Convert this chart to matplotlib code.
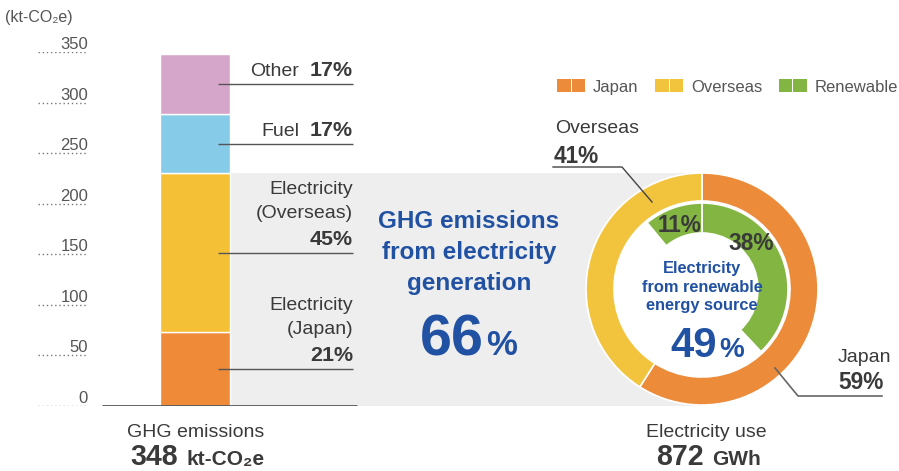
import matplotlib.pyplot as plt
from matplotlib.font_manager import FontProperties
from matplotlib.patches import Patch, Circle
from matplotlib.legend_handler import HandlerTuple

# GHG emissions by source, kt-CO2e (bottom to top of the stacked bar)
ghg_names = [["Electricity", "(Japan)"], ["Electricity", "(Overseas)"], ["Fuel"], ["Other"]]
ghg_values = [73, 157, 59, 59]
ghg_pcts = ["21%", "45%", "17%", "17%"]
ghg_colors = ["#EE8A38", "#F4C136", "#86CBE7", "#D6A6CA"]
yticks = [0, 50, 100, 150, 200, 250, 300, 350]
ghg_total = "348"
elec_share = "66"

# electricity use shares (%), clockwise from the top
use_names = ["Japan", "Overseas"]
use_values = [59, 41]
use_colors = ["#EC8C3B", "#F2C43E"]
# inner ring: renewable in Japan, non-renewable, renewable overseas
renew_values = [38, 51, 11]
renew_share = "49"
use_total = "872"

REG = ["Liberation Sans", "DejaVu Sans"]
DARK = "#3A3A3A"
BLUE = "#2151A2"
GREEN = "#82B541"


def num_font(size):
    # bold numbers; the original face is condensed, so go a bit smaller
    return FontProperties(family=REG, weight="bold", size=size * 0.86)


fig = plt.figure(figsize=(8.99, 4.71), dpi=100)

# stacked bar; x axis in pixels, y in kt-CO2e
ax = fig.add_axes([0, 65 / 471, 1, 354 / 471], zorder=1)
ax.set_xlim(0, 899)
ax.set_ylim(0, 350)
ax.axis("off")

bar_x, bar_w = 195, 70
band_top = ghg_values[0] + ghg_values[1]
ax.fill_between([bar_x + bar_w / 2, 702], 0, band_top, color="#EEEEEE", lw=0, zorder=0)

bottom = 0
for names_, v, p, c in zip(ghg_names, ghg_values, ghg_pcts, ghg_colors):
    ax.bar(bar_x, v, bar_w, bottom=bottom, color=c, edgecolor="white", lw=1, zorder=2)
    mid = bottom + v / 2
    ax.hlines(mid, 218, 353, color="#555555", lw=1, zorder=3)
    ax.annotate(p, (353, mid), xytext=(0, 8), textcoords="offset pixels",
                ha="right", va="baseline", fontproperties=num_font(18), color=DARK)
    if len(names_) == 1:
        ax.annotate(names_[0], (299, mid), xytext=(0, 8), textcoords="offset pixels",
                    ha="right", va="baseline", fontsize=14, family=REG, color=DARK)
    else:
        ax.annotate(names_[1], (353, mid), xytext=(0, 35), textcoords="offset pixels",
                    ha="right", va="baseline", fontsize=14, family=REG, color=DARK)
        ax.annotate(names_[0], (353, mid), xytext=(0, 59), textcoords="offset pixels",
                    ha="right", va="baseline", fontsize=14, family=REG, color=DARK)
    bottom += v

ax.hlines(0, 102, 357, color="#555555", lw=2, zorder=3)
for t in yticks:
    ax.hlines(t, 38, 88, color="#777777", lw=1, linestyles=(0, (1, 2)), zorder=3)
    ax.annotate(str(t), (88, t), xytext=(0, 3), textcoords="offset pixels",
                ha="right", va="baseline", fontsize=12, family=REG, color="#555555")

# donut
ax2 = fig.add_axes([(702 - 116) / 899, 66 / 471, 232 / 899, 232 / 471], zorder=2)
ax2.add_patch(Circle((0, 0), 1, color="white", zorder=0))
ax2.pie(use_values, colors=use_colors, radius=1, startangle=90, counterclock=False,
        wedgeprops=dict(width=28 / 116, edgecolor="white", linewidth=1.2))
ax2.pie(renew_values, colors=[GREEN, "white", GREEN], radius=86 / 116, startangle=90,
        counterclock=False, wedgeprops=dict(width=30 / 116, edgecolor="white", linewidth=1.2))
ax2.set_xlim(-1, 1)
ax2.set_ylim(-1, 1)
ax2.axis("off")

# overlay for text, in pixels
ov = fig.add_axes([0, 0, 1, 1], zorder=5)
ov.set_xlim(0, 899)
ov.set_ylim(471, 0)
ov.axis("off")

ov.text(5, 22, "(kt-CO\u2082e)", fontsize=11.5, family=REG, color="#555555", va="baseline")

for s, y in zip(["GHG emissions", "from electricity", "generation"], [228, 259, 290]):
    ov.text(469, y, s, ha="center", va="baseline", fontsize=17.5, fontweight="bold",
            family=REG, color=BLUE)
ov.text(484, 355, elec_share, ha="right", va="baseline", fontproperties=num_font(48),
        color=BLUE)
ov.text(486, 355, "%", ha="left", va="baseline", fontsize=25, fontweight="bold",
        family=REG, color=BLUE)

for s, y in zip(["Electricity", "from renewable", "energy source"], [273, 292, 310]):
    ov.text(702, y, s, ha="center", va="baseline", fontsize=11.8, fontweight="bold",
            family=REG, color=BLUE)
ov.text(717, 357, renew_share, ha="right", va="baseline", fontproperties=num_font(35),
        color=BLUE)
ov.text(719, 357, "%", ha="left", va="baseline", fontsize=20, fontweight="bold",
        family=REG, color=BLUE)

ov.text(751, 250, f"{renew_values[0]}%", ha="center", va="baseline",
        fontproperties=num_font(19), color=DARK)
ov.text(680, 232, f"{renew_values[2]}%", ha="center", va="baseline",
        fontproperties=num_font(19), color=DARK)

ov.text(555, 133, use_names[1], ha="left", va="baseline", fontsize=14, family=REG, color=DARK)
ov.text(554, 163, f"{use_values[1]}%", ha="left", va="baseline",
        fontproperties=num_font(19), color=DARK)
ov.plot([553, 622, 652], [167, 167, 202], color="#444444", lw=1)

ov.text(838, 362, use_names[0], ha="left", va="baseline", fontsize=14, family=REG, color=DARK)
ov.text(838, 389, f"{use_values[0]}%", ha="left", va="baseline",
        fontproperties=num_font(19), color=DARK)
ov.plot([775, 798, 882], [368, 396, 396], color="#666666", lw=1.2)

ov.text(196, 437, "GHG emissions", ha="center", va="baseline", fontsize=14,
        family=REG, color=DARK)
ov.text(178, 465, ghg_total, ha="right", va="baseline", fontproperties=num_font(24),
        color=DARK)
ov.text(186, 465, "kt-CO\u2082e", ha="left", va="baseline", fontsize=15, fontweight="bold",
        family=REG, color=DARK)

ov.text(706, 437, "Electricity use", ha="center", va="baseline", fontsize=14,
        family=REG, color=DARK)
ov.text(704, 465, use_total, ha="right", va="baseline", fontproperties=num_font(24),
        color=DARK)
ov.text(712, 465, "GWh", ha="left", va="baseline", fontsize=15, fontweight="bold",
        family=REG, color=DARK)

# legend
leg_colors = [use_colors[0], use_colors[1], GREEN]
handles = [(Patch(fc=c, lw=0), Patch(fc=c, lw=0)) for c in leg_colors]
leg = fig.legend(handles, ["Japan", "Overseas", "Renewable"], ncol=3, frameon=False,
                 handler_map={tuple: HandlerTuple(ndivide=None, pad=0.06)},
                 loc="center right", bbox_to_anchor=(898 / 899, 1 - 87 / 471),
                 prop={"family": REG, "size": 12}, labelcolor="#555555",
                 handlelength=1.7, handleheight=0.8, handletextpad=0.45,
                 columnspacing=1.0, borderpad=0, borderaxespad=0)

fig.savefig("out.png", dpi=100)
